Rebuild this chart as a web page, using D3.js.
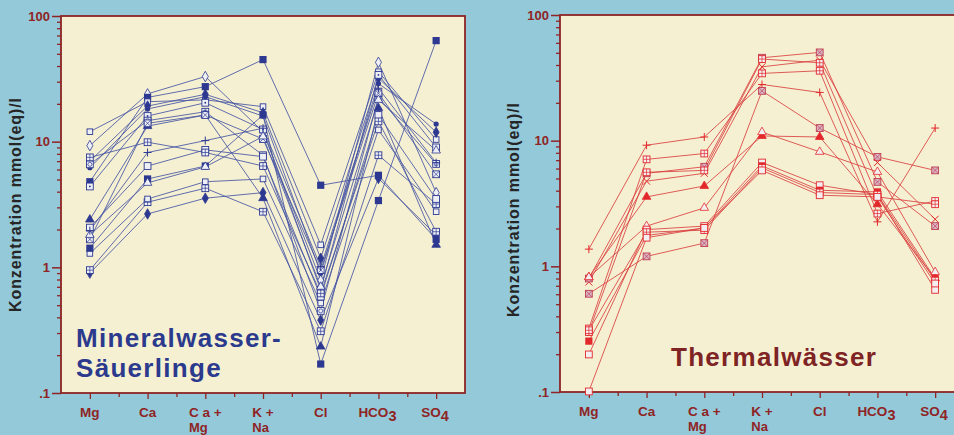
<!DOCTYPE html>
<html>
<head>
<meta charset="utf-8">
<script src="https://cdn.jsdelivr.net/npm/d3@7/dist/d3.min.js"></script>
<style>
  body { margin: 0; background: #94c9da; }
  svg { display: block; }
</style>
</head>
<body>
<div id="chart"></div>
<script>
// Categories on the x axis (label lines; "_" marks a subscript)
var categories = ["Mg", "Ca", "C a +|Mg", "K +|Na", "Cl", "HCO_3", "SO_4"];

// y axis ticks
var yTickValues = [100, 10, 1, 0.1];
var yTickLabels = ["100", "10", "1", ".1"];

// Mineralwasser-Säuerlinge: one row per sample, values in mmol(eq)/l
var mineralSeries = [
  [9.3, 24, 33, 12.0, 0.79, 42.8, 3.93],
  [4.8, 22.5, 27.4, 45, 4.5, 5.4, 1.67],
  [12.0, 20.8, 21.5, 19, 1.51, 36, 10.4],
  [7.0, 19.2, 23.8, 17, 1.18, 32, 11.9],
  [6.2, 18.2, 22.8, 16, 0.9, 29, 13.8],
  [4.4, 16, 20.4, 12.5, 0.66, 34, 9.0],
  [6.6, 14.7, 17.3, 7.8, 0.45, 22.5, 6.65],
  [2.4, 13.3, 16.3, 3.55, 0.234, 18.5, 1.51],
  [1.67, 14, 16.3, 10.5, 0.95, 24.3, 5.5],
  [0.90, 2.66, 3.55, 3.93, 0.38, 5.1, 1.81],
  [0.95, 3.3, 4.26, 2.77, 0.31, 7.8, 3.19],
  [1.29, 3.5, 4.8, 5.05, 0.52, 12.4, 2.77],
  [1.42, 5.05, 6.4, 16.3, 0.17, 3.4, 63.7],
  [1.81, 4.7, 6.3, 11, 0.70, 21.5, 8.5],
  [2.07, 6.4, 8.6, 7.6, 0.585, 16.3, 3.5],
  [1.96, 8.2, 10.2, 12.8, 1.01, 26.6, 6.8],
  [7.5, 9.9, 8.2, 6.4, 0.62, 14.5, 1.92]
];
var mineralMarkers = ["dm", "sqF", "sqS", "dmF", "dot", "sqDot", "sqO", "triF", "sqX",
  "dmF", "sqPlus", "sqS", "sqF", "tri", "sq", "plus", "sqPlus"];

// Thermalwässer
var thermalSeries = [
  [1.37, 9.2, 10.7, 28, 24.2, 2.26, 12.6],
  [0.605, 1.2, 1.53, 24.9, 12.6, 7.43, 5.8],
  [0.32, 7.1, 7.9, 34.3, 36, 2.63, 3.31],
  [0.75, 4.76, 5.5, 38.7, 43.7, 6.7, 2.37],
  [0.80, 5.5, 6.2, 45.7, 50.4, 4.7, 2.09],
  [0.30, 5.6, 5.8, 44.6, 41.7, 3.57, 3.12],
  [0.82, 3.57, 4.36, 10.9, 10.7, 3.12, 0.80],
  [0.82, 2.09, 2.92, 11.7, 8.15, 5.64, 0.90],
  [0.199, 1.96, 2.09, 6.7, 4.42, 3.72, 0.65],
  [0.254, 1.76, 2.02, 6.3, 4.03, 3.91, 0.80],
  [0.31, 1.87, 1.94, 6.07, 3.87, 3.72, 0.77],
  [0.101, 1.69, 2.02, 5.8, 3.68, 3.57, 0.73]
];
var thermalMarkers = ["plus", "sqX", "sqPlus", "x", "sqX", "sqPlus", "triF", "tri",
  "sq", "sqF", "sqPlus", "sq"];

var svgWidth = 954;
var svgHeight = 435;

var axisColor = "#8e2424";
var fontFamily = "'Liberation Sans', Arial, Helvetica, sans-serif";

var svg = d3.select("#chart")
  .append("svg")
  .attr("width", svgWidth)
  .attr("height", svgHeight);

svg.append("rect")
  .attr("width", svgWidth)
  .attr("height", svgHeight)
  .attr("fill", "#94c9da");

// draw one marker
function drawMarker(g, type, cx, cy, stroke, lightFill) {
  var m = g.append("g").attr("transform", `translate(${cx},${cy})`);
  var sym = function(t, size) { return d3.symbol().type(t).size(size)(); };
  if (type === "sqF") {
    m.append("rect").attr("x", -3.6).attr("y", -3.6).attr("width", 7.2).attr("height", 7.2)
      .attr("fill", stroke);
  } else if (type === "sq" || type === "sqS" || type === "sqDot" || type === "sqO" ||
             type === "sqX" || type === "sqPlus") {
    var h = type === "sqS" ? 2.8 : 3.4;
    m.append("rect").attr("x", -h).attr("y", -h).attr("width", 2 * h).attr("height", 2 * h)
      .attr("fill", lightFill).attr("stroke", stroke).attr("stroke-width", 0.9);
    if (type === "sqDot") {
      m.append("circle").attr("r", 0.9).attr("fill", stroke);
    } else if (type === "sqO") {
      m.append("circle").attr("r", 2).attr("fill", "none").attr("stroke", stroke).attr("stroke-width", 0.7);
    } else if (type === "sqX") {
      m.append("path").attr("d", `M${-h},${-h}L${h},${h}M${-h},${h}L${h},${-h}`)
        .attr("stroke", stroke).attr("stroke-width", 0.7);
    } else if (type === "sqPlus") {
      m.append("path").attr("d", `M${-h},0L${h},0M0,${-h}L0,${h}`)
        .attr("stroke", stroke).attr("stroke-width", 0.7);
    }
  } else if (type === "dm" || type === "dmF") {
    m.append("path").attr("d", sym(d3.symbolDiamond, 32))
      .attr("fill", type === "dmF" ? stroke : lightFill)
      .attr("stroke", stroke).attr("stroke-width", 0.8);
  } else if (type === "tri" || type === "triF") {
    m.append("path").attr("d", sym(d3.symbolTriangle, 32))
      .attr("fill", type === "triF" ? stroke : lightFill)
      .attr("stroke", stroke).attr("stroke-width", 0.8);
  } else if (type === "plus") {
    m.append("path").attr("d", "M-4,0L4,0M0,-4L0,4")
      .attr("stroke", stroke).attr("stroke-width", 1);
  } else if (type === "x") {
    m.append("path").attr("d", "M-3.5,-3.5L3.5,3.5M-3.5,3.5L3.5,-3.5")
      .attr("stroke", stroke).attr("stroke-width", 1);
  } else if (type === "dot") {
    m.append("circle").attr("r", 2.6).attr("fill", stroke);
  }
}

function drawPanel(opts) {
  var x = d3.scaleLinear().domain([-0.5, 6.5]).range([opts.left, opts.left + opts.width]);
  var y = d3.scaleLog().domain([0.1, 100]).range([opts.top + opts.height, opts.top]);

  var panel = svg.append("g");

  // plot background + frame
  panel.append("rect")
    .attr("x", opts.left).attr("y", opts.top)
    .attr("width", opts.width).attr("height", opts.height)
    .attr("fill", "#f6f0d3")
    .attr("stroke", axisColor)
    .attr("stroke-width", 1.8);

  // minor y ticks
  var minor = [];
  [0.1, 1, 10].forEach(function(d) {
    for (var k = 2; k <= 9; k++) minor.push(d * k);
  });
  panel.append("g")
    .attr("transform", `translate(${opts.left},0)`)
    .call(d3.axisLeft(y).tickValues(minor).tickSize(4).tickFormat(""))
    .call(function(g) {
      g.select(".domain").remove();
      g.selectAll("line").attr("stroke", axisColor).attr("stroke-width", 1.3);
    });

  // major y ticks
  panel.append("g")
    .attr("transform", `translate(${opts.left},0)`)
    .call(d3.axisLeft(y).tickValues(yTickValues).tickSize(9).tickPadding(2)
      .tickFormat(function(d, i) { return yTickLabels[i]; }))
    .call(function(g) {
      g.select(".domain").remove();
      g.selectAll("line").attr("stroke", axisColor).attr("stroke-width", 1.5);
      g.selectAll("text")
        .attr("fill", axisColor)
        .attr("font-family", fontFamily)
        .attr("font-weight", "bold")
        .attr("font-size", "13px");
    });

  // x ticks
  var bottom = opts.top + opts.height;
  panel.append("g")
    .attr("transform", `translate(0,${bottom})`)
    .call(d3.axisBottom(x).tickValues(d3.range(0, 7)).tickSize(6).tickFormat(""))
    .call(function(g) {
      g.select(".domain").remove();
      g.selectAll("line").attr("stroke", axisColor).attr("stroke-width", 1.3);
    });
  panel.append("g")
    .attr("transform", `translate(0,${bottom})`)
    .call(d3.axisBottom(x).tickValues(d3.range(0.5, 6, 1)).tickSize(4).tickFormat(""))
    .call(function(g) {
      g.select(".domain").remove();
      g.selectAll("line").attr("stroke", axisColor).attr("stroke-width", 1.3);
    });

  // x labels
  categories.forEach(function(c, i) {
    var lines = c.split("|");
    var t = panel.append("text")
      .attr("y", bottom + 24)
      .attr("fill", axisColor)
      .attr("font-family", fontFamily)
      .attr("font-weight", "bold")
      .attr("font-size", "13.5px");
    var parts = lines[0].split("_");
    t.append("tspan").text(parts[0]);
    if (parts[1]) {
      t.append("tspan").attr("dy", 4).attr("font-size", "14.5px").text(parts[1]);
    }
    var w = t.node().getComputedTextLength();
    var x0 = x(i) - w / 2 + (parts[1] ? -1 : 0);
    t.attr("x", x0);
    if (lines[1]) {
      panel.append("text")
        .attr("x", x0)
        .attr("y", bottom + 39)
        .attr("fill", axisColor)
        .attr("font-family", fontFamily)
        .attr("font-weight", "bold")
        .attr("font-size", "13px")
        .text(lines[1]);
    }
  });

  // y axis title
  panel.append("text")
    .attr("transform", `translate(${opts.titleX},${opts.titleY}) rotate(-90)`)
    .attr("text-anchor", "middle")
    .attr("fill", "#262626")
    .attr("font-family", fontFamily)
    .attr("font-weight", "bold")
    .attr("font-size", "16px")
    .attr("textLength", 214)
    .attr("lengthAdjust", "spacing")
    .text("Konzentration mmol(eq)/l");

  // series lines
  var line = d3.line()
    .x(function(d, i) { return x(i); })
    .y(function(d) { return y(d); });

  panel.append("g")
    .selectAll("path")
    .data(opts.series)
    .enter()
    .append("path")
    .attr("d", line)
    .attr("fill", "none")
    .attr("stroke", opts.lineColor)
    .attr("stroke-width", 0.85);

  // markers
  var mg = panel.append("g");
  opts.series.forEach(function(s, si) {
    s.forEach(function(v, i) {
      var type = opts.markers[si];
      var stroke = opts.markerColor;
      var fill = opts.lightFill;
      if (opts.xColor && type === "sqX") { stroke = opts.xColor; fill = opts.xFill; }
      drawMarker(mg, type, x(i), y(v), stroke, fill);
    });
  });

  // panel caption
  opts.caption.forEach(function(c, i) {
    panel.append("text")
      .attr("x", opts.captionX)
      .attr("y", opts.captionY + i * 30)
      .attr("fill", opts.captionColor)
      .attr("font-family", fontFamily)
      .attr("font-weight", "bold")
      .attr("font-size", "26px")
      .attr("letter-spacing", "1.3px")
      .text(c);
  });
}

drawPanel({
  left: 61, top: 16, width: 404, height: 377,
  series: mineralSeries, markers: mineralMarkers,
  lineColor: "#4655a3", markerColor: "#2d3991", lightFill: "#eef0f6",
  titleX: 21, titleY: 205,
  caption: ["Mineralwasser-", "Säuerlinge"], captionX: 76, captionY: 347,
  captionColor: "#2c3a8d"
});

drawPanel({
  left: 560, top: 15, width: 404, height: 377,
  series: thermalSeries, markers: thermalMarkers,
  lineColor: "#d9403e", markerColor: "#e3282c", lightFill: "#f4eef0",
  xColor: "#c03c50", xFill: "#d9b6c6",
  titleX: 519, titleY: 210,
  caption: ["Thermalwässer"], captionX: 671, captionY: 366,
  captionColor: "#7e2424"
});
</script>
</body>
</html>
